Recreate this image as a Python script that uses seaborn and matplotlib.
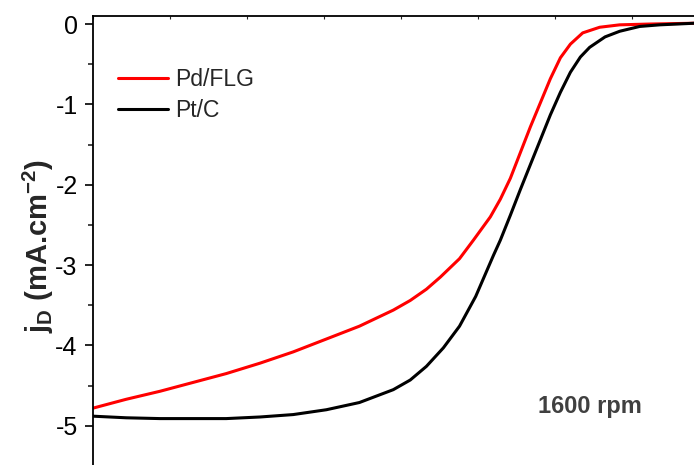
import matplotlib
matplotlib.use("Agg")
import matplotlib.pyplot as plt
from matplotlib.ticker import MultipleLocator
import pandas as pd
import seaborn as sns

# potential (V) and diffusion current density (mA/cm2)
pd_flg_e = [0.200, 0.243, 0.287, 0.330, 0.373, 0.417, 0.460, 0.503, 0.546, 0.590,
            0.612, 0.633, 0.651, 0.676, 0.694, 0.716, 0.729, 0.742, 0.755, 0.768,
            0.781, 0.794, 0.807, 0.820, 0.836, 0.858, 0.884, 0.923, 0.981]
pd_flg_j = [-4.78, -4.67, -4.57, -4.46, -4.35, -4.22, -4.08, -3.92, -3.76, -3.56,
            -3.44, -3.30, -3.15, -2.92, -2.69, -2.40, -2.18, -1.92, -1.60, -1.28,
            -0.98, -0.68, -0.42, -0.25, -0.11, -0.04, -0.01, 0.0, 0.01]

pt_c_e = [0.200, 0.243, 0.287, 0.330, 0.373, 0.417, 0.460, 0.503, 0.546, 0.590,
          0.612, 0.633, 0.655, 0.676, 0.697, 0.720, 0.729, 0.742, 0.755, 0.768,
          0.781, 0.794, 0.807, 0.820, 0.833, 0.845, 0.865, 0.884, 0.910, 0.936,
          0.981]
pt_c_j = [-4.88, -4.90, -4.91, -4.91, -4.91, -4.89, -4.86, -4.80, -4.71, -4.55,
          -4.43, -4.26, -4.03, -3.76, -3.39, -2.88, -2.69, -2.38, -2.06, -1.75,
          -1.44, -1.13, -0.85, -0.60, -0.41, -0.29, -0.16, -0.09, -0.03, -0.01,
          0.01]

series_names = ["Pd/FLG", "Pt/C"]
series_colors = ["#ff0000", "#000000"]
y_ticks = [0, -1, -2, -3, -4, -5]
note_text = "1600 rpm"

df = pd.concat([
    pd.DataFrame({"E": pd_flg_e, "j": pd_flg_j, "sample": series_names[0]}),
    pd.DataFrame({"E": pt_c_e, "j": pt_c_j, "sample": series_names[1]}),
])

sns.set_theme(style="ticks")
plt.rcParams["font.family"] = ["Liberation Sans", "DejaVu Sans"]
plt.rcParams["mathtext.fontset"] = "custom"
plt.rcParams["mathtext.rm"] = "Liberation Sans:bold"
plt.rcParams["mathtext.bf"] = "Liberation Sans:bold"
plt.rcParams["mathtext.it"] = "Liberation Sans:bold"

W, H = 694, 465
fig = plt.figure(figsize=(W / 100, H / 100), dpi=100)
ax = fig.add_axes([93 / W, -1 / H, 616 / W, 450 / H])

sns.lineplot(data=df, x="E", y="j", hue="sample", sort=False,
             palette=dict(zip(series_names, series_colors)),
             linewidth=2.2, ax=ax)

ax.set_xlim(0.2, 1.0)
ax.set_ylim(-5.5, 0.1)
ax.set_xlabel("")
ax.set_ylabel("")

for side in ["left", "top", "bottom", "right"]:
    ax.spines[side].set_linewidth(1.3)
    ax.spines[side].set_color("black")

ax.set_yticks(y_ticks)
ax.set_yticklabels([str(t) for t in y_ticks])
ax.yaxis.set_minor_locator(MultipleLocator(0.5))
ax.tick_params(axis="y", which="major", direction="out", length=6, width=1.2,
               labelsize=18, pad=5, colors="black", left=True, right=False)
ax.tick_params(axis="y", which="minor", direction="out", length=3.5, width=1.2,
               left=True, right=False)
ax.set_xticks([0.2, 0.3, 0.4, 0.5, 0.6, 0.7, 0.8, 0.9, 1.0])
ax.tick_params(axis="x", which="major", direction="in", length=2, width=0.8,
               top=True, bottom=False, labeltop=False, labelbottom=False)

handles, labels = ax.get_legend_handles_labels()
ax.legend(handles, labels, loc="upper left",
          bbox_to_anchor=(118 / W, 1 - 68 / H), bbox_transform=fig.transFigure,
          frameon=False, fontsize=16.5, handlelength=2.2, handletextpad=0.3,
          labelspacing=0.35, borderpad=0, borderaxespad=0)

fig.text(38 / W, 1 - 246 / H, r"$\mathbf{j_D}$ (mA.cm$^{\mathbf{-2}}$)",
         rotation=90, ha="center", va="center", fontsize=21, fontweight="bold")

fig.text(590 / W, 1 - 413 / H, note_text, ha="center", va="baseline",
         fontsize=17, fontweight="bold", color="#404040")

fig.savefig("out.png", dpi=100)
plt.close(fig)
